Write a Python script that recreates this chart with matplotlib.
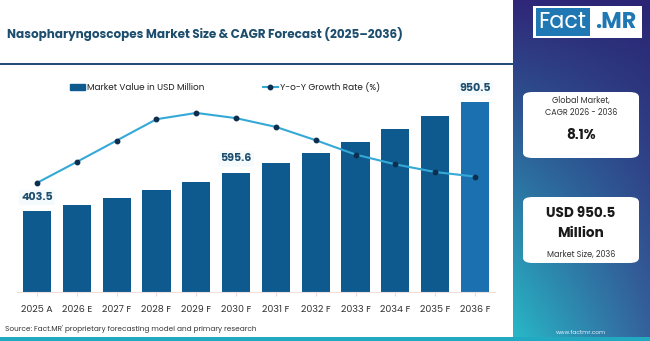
import matplotlib.pyplot as plt
import numpy as np
from matplotlib.lines import Line2D
from matplotlib.patches import FancyBboxPatch, Patch, Rectangle

years = ["2025 A", "2026 E", "2027 F", "2028 F", "2029 F", "2030 F",
         "2031 F", "2032 F", "2033 F", "2034 F", "2035 F", "2036 F"]
market_value = [403.5, 436.0, 471.0, 509.0, 550.0, 595.6,
                644.0, 696.0, 752.0, 813.0, 879.0, 950.5]
yoy_growth = [7.00, 7.60, 8.21, 8.82, 9.00, 8.85,
              8.60, 8.22, 7.81, 7.53, 7.31, 7.18]
labelled = {0: "403.5", 5: "595.6", 11: "950.5"}

TITLE = "Nasopharyngoscopes Market Size & CAGR Forecast (2025\u20132036)"
SOURCE = "Source: Fact.MR' proprietary forecasting model and primary research"

W, H = 650, 341
BAR = "#0e5a8f"
BAR_LAST = "#1b70b0"
LINE = "#35a9d6"
DOT = "#0c2f4f"
NAVY = "#1d4e6e"

plt.rcParams["font.family"] = ["Poppins", "Open Sans", "DejaVu Sans"]

fig = plt.figure(figsize=(W / 100, H / 100), dpi=100)
fig.patch.set_facecolor("white")


def box(x0, y0, x1, y1):
    # pixel box (top-left origin) -> figure rect
    return [x0 / W, 1 - y1 / H, (x1 - x0) / W, (y1 - y0) / H]


def fx(x):
    return x / W


def fy(y):
    return 1 - y / H


# frame pieces of the left panel
fig.add_artist(Rectangle((0, fy(65)), fx(513), 2.2 / H, transform=fig.transFigure,
                         color="#1f4e79", lw=0))
fig.add_artist(Rectangle((0, 0), 1, 4 / H, transform=fig.transFigure,
                         color="#22a9c2", lw=0))
fig.text(fx(7), fy(34), TITLE, fontsize=8.6, fontweight="bold", color=NAVY,
         va="center", ha="left")

# bars + growth line
ax = fig.add_axes(box(17.1, 72, 494.9, 292))
x = np.arange(len(years))
colors = [BAR] * (len(years) - 1) + [BAR_LAST]
ax.bar(x, market_value, width=0.71, color=colors, zorder=2)
ax.set_xlim(-0.5, len(years) - 0.5)
ax.set_ylim(0, 1100)
ax.set_xticks(x)
ax.set_xticklabels(years, fontsize=6.8, color="#333333")
ax.tick_params(axis="x", length=3, color="#f0d8d8", pad=6)
ax.set_yticks([])
for side in ["top", "right", "left"]:
    ax.spines[side].set_visible(False)
ax.spines["bottom"].set_color("#f0dede")
ax.spines["bottom"].set_linewidth(0.8)

for i, txt in labelled.items():
    ax.annotate(txt, (x[i], market_value[i]), xytext=(0, 10),
                textcoords="offset points", ha="center", va="center",
                fontsize=8, fontweight="bold", color=NAVY,
                bbox=dict(boxstyle="round,pad=0.2", fc="#f5fafc", ec="none"))

ax2 = ax.twinx()
ax2.plot(x, yoy_growth, color=LINE, lw=1.5, marker="o", ms=3.2,
         mfc=DOT, mec=DOT, zorder=3)
ax2.set_ylim(3.88, 10.17)
ax2.axis("off")

handles = [Patch(color=BAR),
           Line2D([], [], color=LINE, lw=1.5, marker="o", ms=3.2,
                  mfc=DOT, mec=DOT)]
fig.legend(handles, ["Market Value in USD Million", "Y-o-Y Growth Rate (%)"],
           loc="center left", bbox_to_anchor=(fx(62), fy(87)), ncol=2,
           frameon=False, fontsize=6.4, handlelength=1.7, handleheight=0.6,
           handletextpad=0.2, columnspacing=6.6, labelcolor="#222222")

fig.text(fx(5), fy(329), SOURCE, fontsize=5.25, color="#333333",
         va="center", ha="left")

# right side panel with diagonal gradient
side = fig.add_axes(box(513, 0, 650, 341))
side.axis("off")
tl = np.array([0x30, 0x27, 0x78]) / 255
tr = np.array([0x2a, 0x25, 0x74]) / 255
bl = np.array([0x28, 0xb9, 0xc8]) / 255
br = np.array([0x35, 0x62, 0x9c]) / 255
u = np.linspace(0, 1, 60)[None, :, None]
v = np.linspace(0, 1, 120)[:, None, None]
grad = (1 - v) * ((1 - u) * tl + u * tr) + v * ((1 - u) * bl + u * br)
side.imshow(grad, aspect="auto", extent=[0, 1, 0, 1], origin="upper")
side.set_xlim(0, 1)
side.set_ylim(0, 1)

# logo
fig.add_artist(Rectangle((fx(533), fy(38)), fx(109), 32 / H,
                         transform=fig.transFigure, color="white", lw=0))
fig.add_artist(Rectangle((fx(535.5), fy(35.8)), fx(54), 27.6 / H,
                         transform=fig.transFigure, color="#1f78b4", lw=0))
fig.text(fx(562.5), fy(22), "Fact", fontsize=16, color="white",
         ha="center", va="center")
fig.text(fx(615.5), fy(22), ".MR", fontsize=16, color="#1f78b4",
         ha="center", va="center", fontweight="bold")

# info cards
for top, bottom in [(92, 158), (197, 263)]:
    fig.add_artist(FancyBboxPatch((fx(523), fy(bottom)), fx(116), (bottom - top) / H,
                                  boxstyle="round,pad=0,rounding_size=0.015",
                                  transform=fig.transFigure, fc="white", ec="none"))

fig.text(fx(581), fy(101), "Global Market,", fontsize=5.8, color="#333333",
         ha="center", va="center")
fig.text(fx(581), fy(113), "CAGR 2026 - 2036", fontsize=5.8, color="#333333",
         ha="center", va="center")
fig.text(fx(581), fy(136), "8.1%", fontsize=9.8, fontweight="bold",
         color="#1a1a1a", ha="center", va="center")
fig.text(fx(581), fy(214), "USD 950.5", fontsize=9.8, fontweight="bold",
         color="#1a1a1a", ha="center", va="center")
fig.text(fx(581), fy(234), "Million", fontsize=9.8, fontweight="bold",
         color="#1a1a1a", ha="center", va="center")
fig.text(fx(581), fy(255), "Market Size, 2036", fontsize=5.8, color="#333333",
         ha="center", va="center")
fig.text(fx(581), fy(332), "www.factmr.com", fontsize=4.2, color="#e8f4ff",
         ha="center", va="center")

fig.savefig("out.png", dpi=100, facecolor=fig.get_facecolor())
